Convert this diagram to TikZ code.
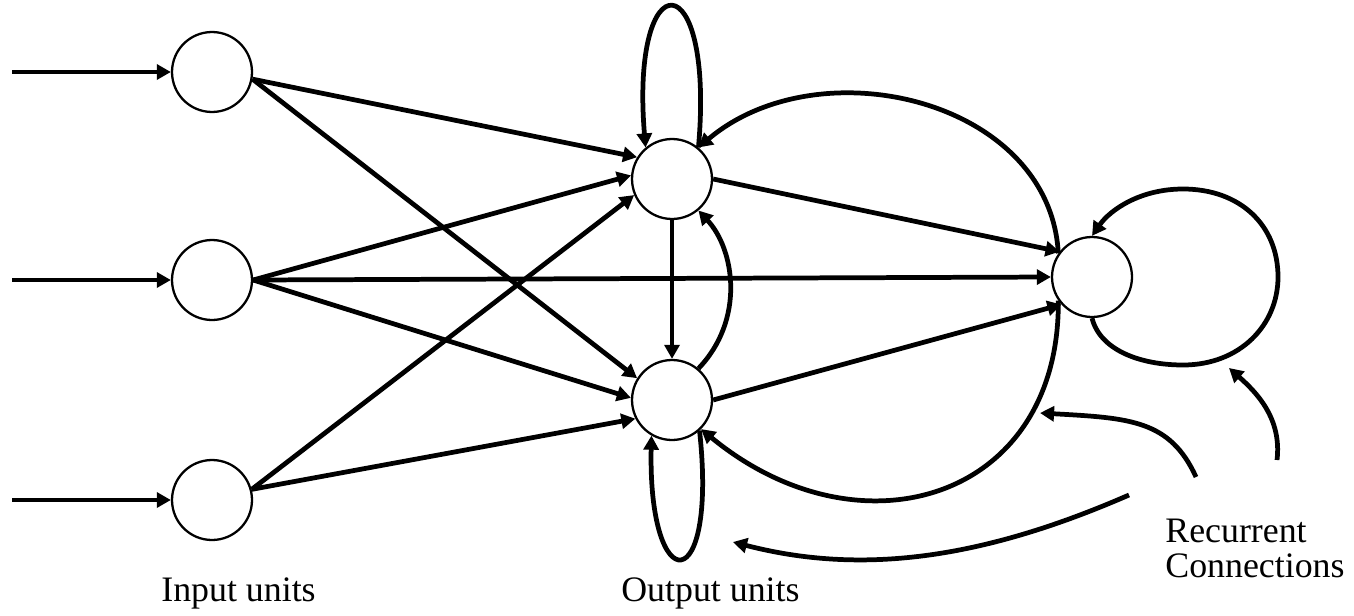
\documentclass[tikz,border=0pt]{standalone}
\usepackage{fontspec}
\setmainfont{Liberation Serif}
\usetikzlibrary{arrows.meta}

\begin{document}
\begin{tikzpicture}[x=0.02cm, y=-0.02cm, >={Triangle[length=8pt, width=8.5pt]},
    unit/.style={circle, draw, line width=1.3pt, minimum size=1.6cm, inner sep=0pt},
    wire/.style={->, line width=2.7pt},
    caption/.style={font=\fontsize{20.4}{19.8}\selectfont, inner sep=0pt, anchor=base west}]
    \useasboundingbox (0,0) rectangle (1354,615);

    % Input units - left column
    \node[unit] (i1) at (212,72) {};
    \node[unit] (i2) at (212,280) {};
    \node[unit] (i3) at (212,500) {};
    \coordinate (x1) at (12,72);
    \coordinate (x2) at (12,280);
    \coordinate (x3) at (12,500);
    \draw[wire] (x1) -- (i1);
    \draw[wire] (x2) -- (i2);
    \draw[wire] (x3) -- (i3);

    % Output units - middle column
    \node[unit] (o1) at (672,179) {};
    \node[unit] (o2) at (672,400) {};

    % Recurrent unit - right
    \node[unit] (r) at (1092,277) {};

    % Input to output weights
    \draw[wire] (i1.-10) -- (o1.148);
    \draw[wire] (i1.-10) -- (o2.148);
    \draw[wire] (i2.east) -- (o1.175);
    \draw[wire] (i2.east) -- (o2.177);
    \draw[wire] (i2.east) -- (r.west);
    \draw[wire] (i3.15) -- (o1.203);
    \draw[wire] (i3.15) -- (o2.207);

    % Output to right unit, and between outputs
    \draw[wire] (o1.east) -- (r.142);
    \draw[wire] (o2.east) -- (r.-138);
    \draw[wire] (o1.south) -- (o2.north);
    \draw[wire] (o2.50) .. controls (745,320) and (735,250) .. (o1.-50);

    % Self loops on the outputs
    \draw[wire] (o1.50) .. controls (715,-40) and (630,-40) .. (o1.130);
    \draw[wire] (o2.-48) .. controls (718,600) and (648,600) .. (o2.-120);

    % Feedback from the right unit
    \draw[wire] (r.145) .. controls (1050,100) and (820,45) .. (o1.50);
    \draw[wire] (r.-145) .. controls (1060,500) and (860,560) .. (o2.-45);
    \draw[wire] (r.-90) .. controls (1100,350) and (1140,365) .. (1183,365)
        .. controls (1240,365) and (1278,325) .. (1278,277)
        .. controls (1278,225) and (1240,189) .. (1183,189)
        .. controls (1140,189) and (1110,210) .. (r.90);

    % Labels
    \node[caption] (inlabel) at (161,601) {Input units};
    \node[caption] (outlabel) at (621,601) {Output units};
    \node[caption, align=left] (reclabel) at (1165,577) {Recurrent\\Connections};

    % Pointers to the recurrent connections
    \coordinate (p1s) at (1277,460);
    \coordinate (p1e) at (1229,368);
    \coordinate (p2s) at (1196,477);
    \coordinate (p2e) at (1040,413);
    \coordinate (p3s) at (1129,495);
    \coordinate (p3e) at (733,542);
    \draw[wire] (p1s) .. controls (1282,418) and (1256,392) .. (p1e);
    \draw[wire] (p2s) .. controls (1170,420) and (1130,418) .. (p2e);
    \draw[wire] (p3s) .. controls (980,560) and (860,575) .. (p3e);
\end{tikzpicture}
\end{document}
